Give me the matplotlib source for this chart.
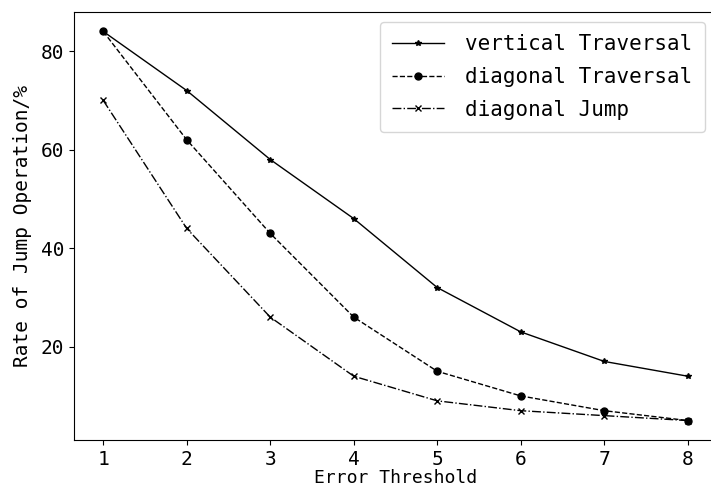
import numpy as np
import matplotlib.pyplot as plt

# %%
thresholds = [1, 2, 3, 4, 5, 6, 7, 8]
vertical_traversal = [84, 72, 58, 46, 32, 23, 17, 14]
diagonal_traversal = [84, 62, 43, 26, 15, 10, 7, 5]
diagonal_jump = [70, 44, 26, 14, 9, 7, 6, 5]

FONT = 'DejaVu Sans Mono'

# %%
fig = plt.figure(figsize=(7.11, 4.95), dpi=100)
# right spine falls off the canvas in the reference
ax = fig.add_axes([74 / 711, 1 - 440 / 495, (717 - 74) / 711, (440 - 12) / 495])

ax.plot(thresholds, vertical_traversal, color='black', linestyle='-', linewidth=1,
        marker='*', markersize=4, label='vertical Traversal')
ax.plot(thresholds, diagonal_traversal, color='black', linestyle='--', linewidth=1,
        marker='o', markersize=5, label='diagonal Traversal')
ax.plot(thresholds, diagonal_jump, color='black', linestyle='-.', linewidth=1,
        marker='x', markersize=4, label='diagonal Jump')

ax.set_xticks(thresholds)
ax.set_yticks([20, 40, 60, 80])
for lbl in ax.get_xticklabels() + ax.get_yticklabels():
    lbl.set_fontfamily(FONT)
    lbl.set_fontsize(14)

ax.set_xlabel('Error Threshold', fontfamily=FONT, fontsize=13, labelpad=0)
ax.set_ylabel('Rate of Jump Operation/%', fontfamily=FONT, fontsize=14, labelpad=6)

ax.legend(loc='upper right', bbox_to_anchor=(705 / 711, 1 - 22 / 495),
          bbox_transform=fig.transFigure, borderaxespad=0,
          prop={'family': FONT, 'size': 15}, handlelength=2.5,
          handletextpad=1.0, labelspacing=0.6, borderpad=0.6)

fig.savefig('out.png', dpi=100)
